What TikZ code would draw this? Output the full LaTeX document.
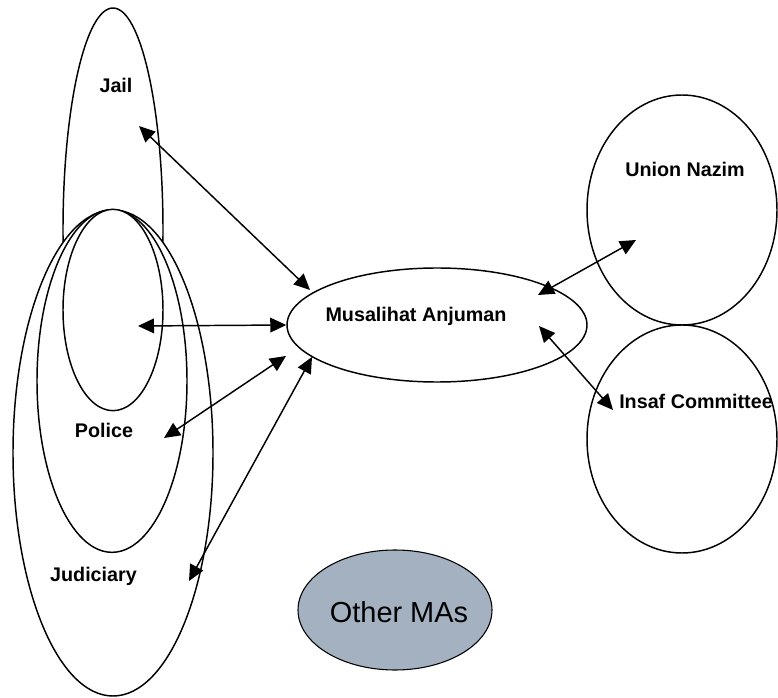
\documentclass[tikz,border=0pt]{standalone}
\usepackage{fontspec}
\setmainfont{Liberation Sans}
\usetikzlibrary{arrows.meta,shapes.geometric}
\definecolor{otherfill}{HTML}{A3B1C1}
\begin{document}
\begin{tikzpicture}[x=7.5pt, y=-7.5pt,
    blob/.style={draw, ellipse, line width=1.1pt, inner sep=0pt, fill=white},
    lbl/.style={font=\fontsize{14.8}{17}\selectfont\bfseries, anchor=base, inner sep=0pt},
    link/.style={{Triangle[length=12pt,width=11pt]}-{Triangle[length=12pt,width=11pt]}, line width=1.1pt}]
    \useasboundingbox (0,0) rectangle (77.8,69.8);
    % Left group: Jail behind, nested ellipses in front
    \node[blob, minimum width=75pt, minimum height=333pt] (jail) at (11.3,23.0) {};
    \node[blob, minimum width=150pt, minimum height=364.5pt] (judiciary) at (11.3,45.3) {};
    \node[blob, minimum width=112.5pt, minimum height=257pt] (police) at (11.2,38.1) {};
    \node[blob, minimum width=75pt, minimum height=151pt] (inner) at (11.3,31.0) {};
    % Centre and right
    \node[blob, minimum width=225pt, minimum height=85.5pt] (ma) at (43.7,32.5) {};
    \node[blob, minimum width=142.5pt, minimum height=172.5pt] (union) at (68.2,21.0) {};
    \node[blob, minimum width=142.5pt, minimum height=171pt] (insaf) at (68.2,43.9) {};
    \node[blob, fill=otherfill, line width=0.8pt, minimum width=145.5pt, minimum height=90pt] (other) at (39.5,61.0) {};
    % Labels
    \node[lbl] (jailLbl) at (11.6,9.3) {Jail};
    \node[lbl] (policeLbl) at (10.4,43.7) {Police};
    \node[lbl] (judLbl) at (9.35,58.1) {Judiciary};
    \node[lbl] (maLbl) at (41.6,32.2) {Musalihat Anjuman};
    \node[lbl] (unionLbl) at (68.5,17.7) {Union Nazim};
    \node[lbl] (insafLbl) at (69.6,40.8) {Insaf Committee};
    \node[anchor=base, inner sep=0pt, font=\fontsize{21.7}{25}\selectfont] (otherLbl) at (39.9,62.2) {Other MAs};
    % Arrow ends
    \coordinate (jailEnd) at (13.9,12.6);
    \coordinate (maJail) at (31.0,29.0);
    \coordinate (innerEnd) at (13.8,32.6);
    \coordinate (policeEnd) at (16.4,43.8);
    \coordinate (maPolice) at (28.6,35.6);
    \coordinate (judEnd) at (18.9,58.1);
    \coordinate (maJud) at (31.2,35.7);
    \coordinate (maUnion) at (53.8,29.5);
    \coordinate (unionEnd) at (63.6,24.0);
    \coordinate (maInsaf) at (53.9,32.6);
    \coordinate (insafEnd) at (61.3,41.0);
    % Links
    \draw[link] (jailEnd) -- (maJail);
    \draw[link] (innerEnd) -- (ma.west);
    \draw[link] (policeEnd) -- (maPolice);
    \draw[link] (judEnd) -- (maJud);
    \draw[link] (maUnion) -- (unionEnd);
    \draw[link] (maInsaf) -- (insafEnd);
\end{tikzpicture}
\end{document}
